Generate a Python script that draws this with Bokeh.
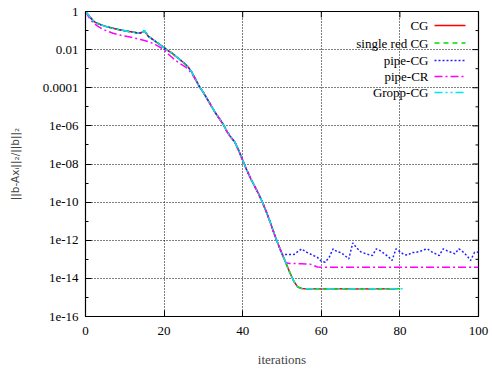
import math
from bokeh.plotting import figure
from bokeh.models import (Range1d, FixedTicker, CustomJSTickFormatter,
                          Label, Arrow, ColumnDataSource)
from bokeh.embed import file_html
from bokeh.resources import INLINE

# ---- data (log10 of relative residual) ----
cg_log10 = [0, -0.25, -0.50, -0.62, -0.70, -0.77, -0.83, -0.88, -0.93, -0.97,
            -1.01, -1.05, -1.08, -1.12, -1.13, -1.02, -1.30, -1.45, -1.60, -1.75,
            -1.90, -2.05, -2.18, -2.35, -2.52, -2.69, -2.88, -3.17, -3.55, -3.95,
            -4.25, -4.60, -4.95, -5.30, -5.60, -5.90, -6.30, -6.60, -6.85, -7.30,
            -7.80, -8.30, -8.75, -9.15, -9.55, -10.00, -10.50, -11.05, -11.65, -12.20,
            -12.70, -13.20, -13.70, -14.15, -14.45, -14.53, -14.55, -14.56, -14.55, -14.55,
            -14.56, -14.55, -14.55, -14.56, -14.55, -14.55, -14.56, -14.55, -14.55, -14.56,
            -14.55, -14.55, -14.56, -14.55, -14.55, -14.56, -14.55, -14.55, -14.56, -14.55]
single_red_log10 = [0, -0.25, -0.50, -0.62, -0.70, -0.77, -0.83, -0.88, -0.93, -0.97,
            -1.01, -1.05, -1.08, -1.12, -1.13, -1.02, -1.30, -1.45, -1.60, -1.75,
            -1.90, -2.05, -2.18, -2.35, -2.52, -2.69, -2.88, -3.17, -3.55, -3.95,
            -4.25, -4.60, -4.95, -5.30, -5.60, -5.90, -6.30, -6.60, -6.85, -7.30,
            -7.80, -8.30, -8.75, -9.15, -9.55, -10.00, -10.50, -11.05, -11.65, -12.20,
            -12.70, -13.20, -13.70, -14.15, -14.45, -14.53, -14.55, -14.55, -14.56, -14.55,
            -14.55, -14.56, -14.55, -14.55, -14.56, -14.55, -14.55, -14.56, -14.55, -14.55,
            -14.56, -14.55, -14.55, -14.56, -14.55, -14.55, -14.56, -14.55, -14.55, -14.55,
            -14.55]
pipe_cg_log10 = [0, -0.25, -0.50, -0.62, -0.70, -0.77, -0.83, -0.88, -0.93, -0.97,
            -1.01, -1.05, -1.08, -1.12, -1.13, -1.02, -1.30, -1.45, -1.60, -1.75,
            -1.90, -2.05, -2.18, -2.35, -2.52, -2.69, -2.88, -3.17, -3.55, -3.95,
            -4.25, -4.60, -4.95, -5.30, -5.60, -5.90, -6.30, -6.60, -6.85, -7.30,
            -7.80, -8.30, -8.75, -9.15, -9.55, -10.00, -10.50, -11.05, -11.65, -12.20,
            -12.72, -12.75, -12.75, -12.75, -12.60, -12.45, -12.60, -12.70, -12.80, -12.90,
            -13.10, -13.15, -12.90, -12.45, -12.60, -12.65, -12.80, -12.98, -12.14, -12.40,
            -12.60, -12.68, -12.75, -12.80, -12.45, -12.55, -12.70, -12.85, -13.06, -12.45,
            -12.60, -12.75, -12.78, -12.65, -12.63, -12.60, -12.50, -12.45, -12.60, -12.70,
            -12.80, -12.45, -12.55, -12.63, -12.71, -12.45, -12.60, -12.80, -13.06, -12.63,
            -12.62]
pipe_cr_log10 = [0, -0.35, -0.60, -0.75, -0.88, -0.98, -1.06, -1.14, -1.20, -1.25,
            -1.29, -1.33, -1.37, -1.42, -1.47, -1.52, -1.58, -1.66, -1.76, -1.88,
            -2.00, -2.22, -2.40, -2.58, -2.72, -2.85, -3.00, -3.25, -3.58, -3.95,
            -4.25, -4.60, -4.95, -5.30, -5.60, -5.90, -6.30, -6.60, -6.85, -7.30,
            -7.80, -8.30, -8.75, -9.15, -9.55, -10.00, -10.50, -11.05, -11.65, -12.20,
            -12.70, -13.18, -13.22, -13.22, -13.23, -13.23, -13.24, -13.24, -13.32, -13.40,
            -13.41, -13.41, -13.41, -13.41, -13.41, -13.41, -13.41, -13.41, -13.41, -13.41,
            -13.41, -13.41, -13.41, -13.41, -13.41, -13.41, -13.41, -13.41, -13.41, -13.41,
            -13.41, -13.41, -13.41, -13.41, -13.41, -13.41, -13.41, -13.41, -13.41, -13.41,
            -13.41, -13.41, -13.41, -13.41, -13.41, -13.41, -13.41, -13.41, -13.41, -13.41,
            -13.41]
gropp_log10 = [0, -0.25, -0.50, -0.62, -0.70, -0.77, -0.83, -0.88, -0.93, -0.97,
            -1.01, -1.05, -1.08, -1.12, -1.13, -1.01, -1.30, -1.45, -1.60, -1.75,
            -1.90, -2.05, -2.18, -2.35, -2.52, -2.69, -2.88, -3.17, -3.55, -3.95,
            -4.25, -4.60, -4.95, -5.30, -5.60, -5.90, -6.30, -6.60, -6.85, -7.30,
            -7.80, -8.30, -8.75, -9.15, -9.55, -10.00, -10.50, -11.05, -11.65, -12.20,
            -12.70, -13.20, -13.70, -14.15, -14.45, -14.53, -14.55, -14.55, -14.55, -14.56,
            -14.55, -14.55, -14.55, -14.56, -14.55, -14.55, -14.55, -14.56, -14.55, -14.55,
            -14.55, -14.56, -14.55, -14.55, -14.55, -14.56, -14.55, -14.55, -14.55, -14.56,
            -14.55, -14.55]

series_names = ["CG", "single red CG", "pipe-CG", "pipe-CR", "Gropp-CG"]
series_data = [cg_log10, single_red_log10, pipe_cg_log10, pipe_cr_log10, gropp_log10]
series_colors = ["#ff0000", "#00dd00", "#2222ff", "#ff00ff", "#00e5ee"]
series_dash = ["solid", "5 4", "2 2", "8 3 2 3", "8 3 2 3 2 3"]

x_ticks = [0, 20, 40, 60, 80, 100]
y_major_exp = [0, -2, -4, -6, -8, -10, -12, -14, -16]
y_minor_exp = [-1, -3, -5, -7, -9, -11, -13, -15]

SERIF = "Liberation Serif"
FS = "13px"

p = figure(width=492, height=369, output_backend="svg", toolbar_location=None,
           y_axis_type="log", x_range=Range1d(0, 100), y_range=Range1d(1e-16, 1),
           min_border_left=85, min_border_right=14, min_border_top=11, min_border_bottom=53)
p.background_fill_color = "white"
p.border_fill_color = "white"
p.outline_line_color = "black"
p.outline_line_width = 1.2

y_major = [10.0 ** e for e in y_major_exp]
y_minor = [10.0 ** e for e in y_minor_exp]
y_ticker = FixedTicker(ticks=y_major, minor_ticks=y_minor)
x_ticker = FixedTicker(ticks=x_ticks, minor_ticks=[])

fmt = CustomJSTickFormatter(code="""
const e = Math.round(Math.log10(tick));
if (e == 0) return "1";
if (e == -2) return "0.01";
if (e == -4) return "0.0001";
const a = Math.abs(e);
return "1e-" + (a < 10 ? "0" + a : "" + a);
""")

def style_axis(ax):
    ax.axis_line_color = "black"
    ax.major_tick_in = 6
    ax.major_tick_out = 0
    ax.minor_tick_in = 3
    ax.minor_tick_out = 0
    ax.major_tick_line_color = "black"
    ax.minor_tick_line_color = "black"
    ax.major_label_text_font = SERIF
    ax.major_label_text_font_size = FS
    ax.major_label_text_color = "black"

xa = p.xaxis[0]
xa.ticker = x_ticker
style_axis(xa)
xa.major_label_standoff = 10
xa.axis_label = "iterations"
xa.axis_label_text_font = SERIF
xa.axis_label_text_font_size = FS
xa.axis_label_text_font_style = "normal"
xa.axis_label_standoff = 14

ya = p.yaxis[0]
ya.ticker = y_ticker
ya.formatter = fmt
style_axis(ya)
ya.major_label_standoff = 7
ya.axis_label = "||b-Axᵢ||₂/||b||₂"
ya.axis_label_text_font = "DejaVu Sans"
ya.axis_label_text_font_size = "10.5px"
ya.axis_label_text_font_style = "normal"
ya.axis_label_standoff = 19

for g in (p.xgrid[0], p.ygrid[0]):
    g.grid_line_color = "black"
    g.grid_line_dash = "1 2"
    g.grid_line_width = 1
p.xgrid[0].ticker = FixedTicker(ticks=[20, 40, 60, 80])
p.ygrid[0].ticker = FixedTicker(ticks=y_major[1:-1])

# mirrored inward ticks on the top and right borders (half of a centred dash is clipped)
p.scatter(x=x_ticks, y=[1.0] * len(x_ticks), marker="dash", angle=math.pi / 2, size=12,
          line_color="black", line_width=1)
p.scatter(x=[100] * len(y_major), y=y_major, marker="dash", size=12,
          line_color="black", line_width=1)
p.scatter(x=[100] * len(y_minor), y=y_minor, marker="dash", size=6,
          line_color="black", line_width=1)

for name, vals, col, dash in zip(series_names, series_data, series_colors, series_dash):
    src = ColumnDataSource(dict(x=list(range(len(vals))), y=[10.0 ** v for v in vals]))
    p.line("x", "y", source=src, line_color=col, line_dash=dash, line_width=1.5)

# legend (gnuplot style: label then sample), anchored to the top-right corner of the frame
row_off = [-14, -31.5, -49, -65, -81]
for name, col, dash, yo in zip(series_names, series_colors, series_dash, row_off):
    p.add_layout(Label(x=100, y=1.0, x_offset=-50, y_offset=yo, text=name,
                       text_align="right", text_baseline="middle", text_font=SERIF,
                       text_font_size=FS, text_color="black"))
    p.add_layout(Arrow(x_start=349, y_start=291 + 14 + yo, x_end=380, y_end=291 + 14 + yo,
                       start_units="screen", end_units="screen", start=None, end=None,
                       line_color=col, line_dash=dash, line_width=1.5))

open("out.html", "w").write(file_html(p, INLINE))
